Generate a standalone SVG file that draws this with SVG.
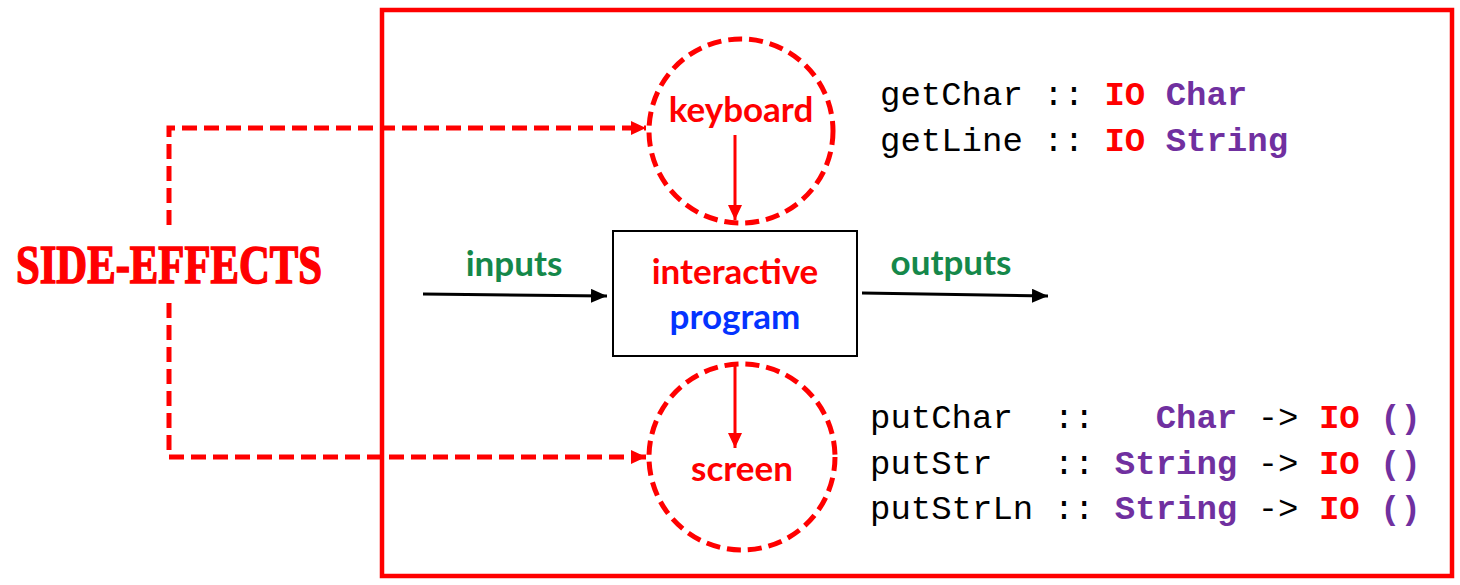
<svg xmlns="http://www.w3.org/2000/svg" width="1460" height="585" viewBox="0 0 1460 585">
  <style>
    .lbl { font-family: Lato, "Open Sans", "Liberation Sans", sans-serif; font-weight: bold; font-size: 35px; text-anchor: middle; }
    .code { font-family: "Liberation Mono", "DejaVu Sans Mono", monospace; font-size: 34px; fill: #000; }
    .io { fill: #ff0000; font-weight: bold; }
    .ty { fill: #7030a0; font-weight: bold; }
    .dash { fill: none; stroke: #ff0000; stroke-width: 5; stroke-dasharray: 15 7; }
    .ring { fill: none; stroke: #ff0000; stroke-width: 5; stroke-dasharray: 14 7; }
  </style>
  <defs>
    <marker id="ah-black" viewBox="0 0 16 14" markerWidth="16" markerHeight="14" refX="16" refY="7" orient="auto" markerUnits="userSpaceOnUse">
      <path d="M0,0 L16,7 L0,14 Z" fill="#000"/>
    </marker>
    <marker id="ah-red" viewBox="0 0 15 14" markerWidth="15" markerHeight="14" refX="15" refY="7" orient="auto" markerUnits="userSpaceOnUse">
      <path d="M0,0 L15,7 L0,14 Z" fill="#ff0000"/>
    </marker>
  </defs>

  <!-- system boundary -->
  <rect id="boundary" x="382" y="10" width="1070" height="566" fill="none" stroke="#ff0000" stroke-width="4.5"/>

  <g id="side-effects">
    <text x="169" y="283" font-family="'Liberation Serif', serif" font-weight="bold" font-size="54" fill="#ff0000" stroke="#ff0000" stroke-width="1.6" text-anchor="middle" textLength="306" lengthAdjust="spacingAndGlyphs">SIDE-EFFECTS</text>
  </g>

  <g id="keyboard">
    <circle class="ring" cx="741" cy="131" r="92"/>
    <text class="lbl" x="741" y="122" fill="#ff0000">keyboard</text>
  </g>

  <g id="screen">
    <circle class="ring" cx="742" cy="457" r="93"/>
    <text class="lbl" x="742" y="481" fill="#ff0000">screen</text>
  </g>

  <g id="program">
    <rect x="613" y="231" width="244" height="125" fill="#fff" stroke="#000" stroke-width="2"/>
    <text class="lbl" x="735" y="284" fill="#ff0000">interactive</text>
    <text class="lbl" x="735" y="329" fill="#0433ff">program</text>
  </g>

  <g id="labels">
    <text class="lbl" x="514" y="276" fill="#15884a">inputs</text>
    <text class="lbl" x="951" y="275" fill="#15884a">outputs</text>
  </g>

  <g id="connectors">
    <line x1="423" y1="294" x2="607" y2="296" stroke="#000" stroke-width="3" marker-end="url(#ah-black)"/>
    <line x1="862" y1="293" x2="1048" y2="296" stroke="#000" stroke-width="3" marker-end="url(#ah-black)"/>
    <line x1="735" y1="135" x2="735" y2="220" stroke="#ff0000" stroke-width="3" marker-end="url(#ah-red)"/>
    <line x1="735" y1="363" x2="735" y2="448" stroke="#ff0000" stroke-width="3" marker-end="url(#ah-red)"/>
    <path class="dash" d="M169,225 V128 H646" marker-end="url(#ah-red)"/>
    <path class="dash" d="M169,303 V457 H646" marker-end="url(#ah-red)"/>
  </g>

  <g id="input-types">
    <text class="code" x="880" y="105" xml:space="preserve">getChar :: <tspan class="io">IO</tspan> <tspan class="ty">Char</tspan></text>
    <text class="code" x="880" y="151" xml:space="preserve">getLine :: <tspan class="io">IO</tspan> <tspan class="ty">String</tspan></text>
  </g>

  <g id="output-types">
    <text class="code" x="870" y="428" xml:space="preserve">putChar  ::   <tspan class="ty">Char</tspan> -&gt; <tspan class="io">IO</tspan> <tspan class="ty">()</tspan></text>
    <text class="code" x="870" y="474" xml:space="preserve">putStr   :: <tspan class="ty">String</tspan> -&gt; <tspan class="io">IO</tspan> <tspan class="ty">()</tspan></text>
    <text class="code" x="870" y="519" xml:space="preserve">putStrLn :: <tspan class="ty">String</tspan> -&gt; <tspan class="io">IO</tspan> <tspan class="ty">()</tspan></text>
  </g>
</svg>
